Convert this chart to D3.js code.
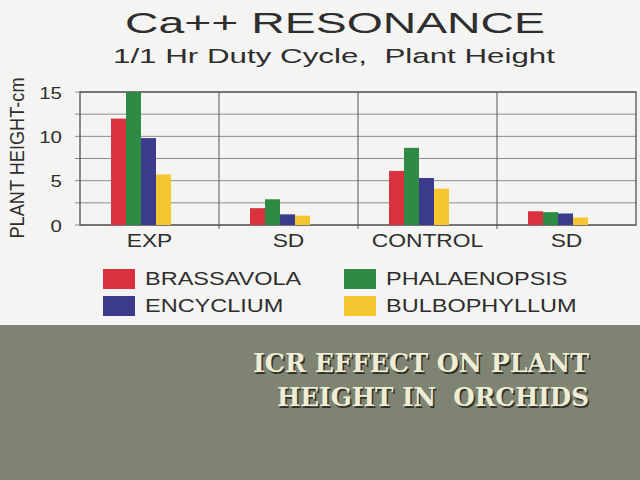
<!DOCTYPE html>
<html>
<head>
<meta charset="utf-8">
<script src="https://cdn.jsdelivr.net/npm/d3@7"></script>
<style>
  body { margin: 0; background: #f3f3f1; }
  svg { display: block; }
  text { white-space: pre; }
</style>
</head>
<body>
<svg id="chart" width="640" height="480"></svg>
<script>
// chart data
const categories = ["EXP", "SD", "CONTROL", "SD"];
const series = ["BRASSAVOLA", "PHALAENOPSIS", "ENCYCLIUM", "BULBOPHYLLUM"];
const brassavola = [12, 1.9, 6.1, 1.55];
const phalaenopsis = [15, 2.9, 8.7, 1.45];
const encyclium = [9.8, 1.2, 5.3, 1.3];
const bulbophyllum = [5.7, 1.05, 4.1, 0.85];
const yTicks = [0, 5, 10, 15];
const gridTicks = [0, 2.5, 5, 7.5, 10, 12.5, 15];

const values = [brassavola, phalaenopsis, encyclium, bulbophyllum];
const colors = ["#d9313d", "#2f8a45", "#3b3b8e", "#f6c532"];

const svg = d3.select("#chart");
const font = "'Liberation Sans', Arial, sans-serif";

// the scanned chart text is wider than normal Arial
function widen(sel, k) {
    sel.each(function () {
        const w = this.getComputedTextLength();
        d3.select(this).attr("textLength", w * k).attr("lengthAdjust", "spacingAndGlyphs");
    });
}

svg.append("rect").attr("width", 640).attr("height", 325).attr("fill", "#f4f4f2");

// titles
svg.append("text")
    .attr("x", 335).attr("y", 33)
    .attr("text-anchor", "middle")
    .attr("font-family", font).attr("font-size", 29)
    .attr("fill", "#2e2e2e")
    .attr("textLength", 420).attr("lengthAdjust", "spacingAndGlyphs")
    .text("Ca++ RESONANCE");

svg.append("text")
    .attr("x", 334).attr("y", 63)
    .attr("text-anchor", "middle")
    .attr("font-family", font).attr("font-size", 20.5)
    .attr("fill", "#2e2e2e")
    .attr("textLength", 442).attr("lengthAdjust", "spacingAndGlyphs")
    .text("1/1 Hr Duty Cycle,  Plant Height");

// scales
const x0 = d3.scaleBand().domain(d3.range(categories.length)).range([80, 636]);
const x1 = d3.scaleBand().domain(series).range([31, 91]);
const y = d3.scaleLinear().domain([0, 15]).range([225, 92]);

const plot = svg.append("g");

// horizontal grid
plot.append("g")
    .selectAll("line")
    .data(gridTicks)
    .join("line")
    .attr("x1", 75).attr("x2", 636)
    .attr("y1", d => y(d)).attr("y2", d => y(d))
    .attr("stroke", "#8c8c8c")
    .attr("stroke-width", 1);

// category dividers
plot.append("g")
    .selectAll("line")
    .data(d3.range(1, categories.length))
    .join("line")
    .attr("x1", d => x0(d)).attr("x2", d => x0(d))
    .attr("y1", y(15)).attr("y2", y(0) + 4)
    .attr("stroke", "#555")
    .attr("stroke-width", 1);

// frame
plot.append("rect")
    .attr("x", 80).attr("y", y(15))
    .attr("width", 556).attr("height", y(0) - y(15))
    .attr("fill", "none")
    .attr("stroke", "#444")
    .attr("stroke-width", 1.2);

// bars
plot.append("g")
    .selectAll("g")
    .data(series)
    .join("g")
    .attr("fill", (d, i) => colors[i])
    .selectAll("rect")
    .data((s, i) => values[i].map((v, c) => ({ s: s, v: v, c: c })))
    .join("rect")
    .attr("x", d => x0(d.c) + x1(d.s))
    .attr("width", x1.bandwidth())
    .attr("y", d => y(d.v))
    .attr("height", d => y(0) - y(d.v));

// y tick labels
plot.append("g")
    .selectAll("text")
    .data(yTicks)
    .join("text")
    .attr("x", 62).attr("y", d => y(d) + 6.5)
    .attr("text-anchor", "end")
    .attr("font-family", font).attr("font-size", 17)
    .attr("fill", "#2e2e2e")
    .text(d => d)
    .call(widen, 1.2);

// x labels
plot.append("g")
    .selectAll("text")
    .data(categories)
    .join("text")
    .attr("x", (d, i) => x0(i) + x0.bandwidth() / 2)
    .attr("y", 247)
    .attr("text-anchor", "middle")
    .attr("font-family", font).attr("font-size", 19)
    .attr("fill", "#2e2e2e")
    .text(d => d)
    .call(widen, 1.2);

// y axis label
svg.append("text")
    .attr("transform", "translate(24,158) rotate(-90)")
    .attr("text-anchor", "middle")
    .attr("font-family", font).attr("font-size", 20)
    .attr("fill", "#2e2e2e")
    .attr("textLength", 161).attr("lengthAdjust", "spacingAndGlyphs")
    .text("PLANT HEIGHT-cm");

// legend
const legend = svg.append("g")
    .selectAll("g")
    .data(series)
    .join("g")
    .attr("transform", (d, i) => `translate(${i % 2 ? 344 : 103},${i < 2 ? 269 : 296})`);

legend.append("rect")
    .attr("width", 32).attr("height", 20)
    .attr("fill", (d, i) => colors[i]);

legend.append("text")
    .attr("x", 42).attr("y", 16)
    .attr("font-family", font).attr("font-size", 18.5)
    .attr("fill", "#2e2e2e")
    .text(d => d)
    .call(widen, 1.27);

// lower slide panel
svg.append("rect")
    .attr("y", 325).attr("width", 640).attr("height", 155)
    .attr("fill", "#7f8472");

const heading = [
    { t: "ICR EFFECT ON PLANT", y: 372, w: 336 },
    { t: "HEIGHT IN  ORCHIDS", y: 406, w: 312 }
];
const serif = "'DejaVu Serif', 'Liberation Serif', serif";

svg.append("g")
    .selectAll("text")
    .data(heading)
    .join("text")
    .attr("x", 590.5).attr("y", d => d.y + 1.5)
    .attr("text-anchor", "end")
    .attr("font-family", serif).attr("font-weight", "bold").attr("font-size", 26)
    .attr("fill", "#2f3128")
    .attr("textLength", d => d.w).attr("lengthAdjust", "spacingAndGlyphs")
    .text(d => d.t);

svg.append("g")
    .selectAll("text")
    .data(heading)
    .join("text")
    .attr("x", 589).attr("y", d => d.y)
    .attr("text-anchor", "end")
    .attr("font-family", serif).attr("font-weight", "bold").attr("font-size", 26)
    .attr("fill", "#efedd6")
    .attr("textLength", d => d.w).attr("lengthAdjust", "spacingAndGlyphs")
    .text(d => d.t);
</script>
</body>
</html>
